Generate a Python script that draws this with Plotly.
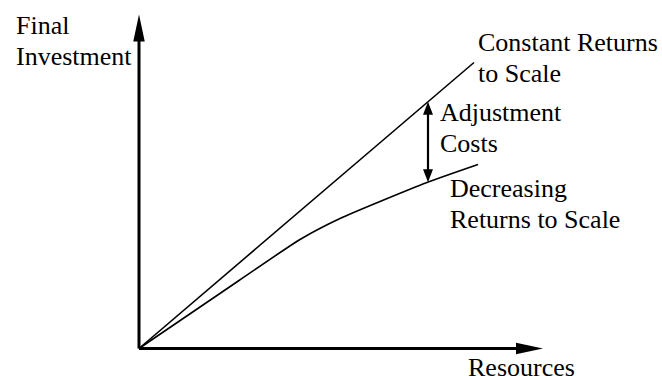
import numpy as np
import plotly.graph_objects as go

# ---- data (arbitrary units) ----
resources_crs = [0.0, 8.375]
investment_crs = [0.0, 7.15]

resources_drs = [0.0, 2.5, 4.025, 5.025, 7.2, 8.475]
investment_drs = [0.0, 1.7, 2.725, 3.25, 4.15, 4.6]

axis_x_end = 10.1      # tip of horizontal axis arrow
axis_y_end = 8.35      # tip of vertical axis arrow
adjust_x = 7.225       # position of the adjustment-cost arrow

# label lines: (text, left edge px, baseline px)
label_lines = [
    ("Final", 15, 33),
    ("Investment", 15, 64.5),
    ("Constant Returns", 477.2, 50),
    ("to Scale", 477.2, 81.5),
    ("Adjustment", 439, 120.5),
    ("Costs", 439, 151.5),
    ("Decreasing", 449, 196),
    ("Returns to Scale", 449, 227.5),
    ("Resources", 466.5, 375.3),
]

FONT_SIZE = 26
FONT = dict(family="Liberation Serif", size=FONT_SIZE, color="black")
ASCENT = 0.891  # Liberation Serif ascent (em)
UNIT = 40.0  # px per data unit
OX, OY = 139.0, 348.5  # pixel position of the origin

fig = go.Figure()
fig.add_trace(go.Scatter(x=resources_crs, y=investment_crs, mode="lines",
                         line=dict(color="black", width=1.6), hoverinfo="skip"))
fig.add_trace(go.Scatter(x=resources_drs, y=investment_drs, mode="lines",
                         line=dict(color="black", width=1.6, shape="spline", smoothing=0.6),
                         hoverinfo="skip"))

shapes = []
# axes lines
head_len_ax, head_w_ax = 27, 11.5
shapes.append(dict(type="line", x0=0, y0=0, x1=0, y1=axis_y_end - head_len_ax / UNIT + 0.05,
                   line=dict(color="black", width=3)))
shapes.append(dict(type="line", x0=0, y0=0, x1=axis_x_end - head_len_ax / UNIT + 0.05, y1=0,
                   line=dict(color="black", width=3)))
# axis arrowheads (pixel-sized, anchored at the axis tips)
shapes.append(dict(type="path", xref="x", yref="y", xsizemode="pixel", ysizemode="pixel",
                   xanchor=0, yanchor=axis_y_end,
                   path=f"M0,0 L{-head_w_ax/2},{-head_len_ax} L{head_w_ax/2},{-head_len_ax} Z",
                   fillcolor="black", line=dict(width=0)))
shapes.append(dict(type="path", xref="x", yref="y", xsizemode="pixel", ysizemode="pixel",
                   xanchor=axis_x_end, yanchor=0,
                   path=f"M0,0 L{-head_len_ax},{head_w_ax/2} L{-head_len_ax},{-head_w_ax/2} Z",
                   fillcolor="black", line=dict(width=0)))

# adjustment-cost double arrow between the two curves
top = float(np.interp(adjust_x, resources_crs, investment_crs))
bot = float(np.interp(adjust_x, resources_drs, investment_drs))
hl, hw = 13, 10
shapes.append(dict(type="line", x0=adjust_x, x1=adjust_x,
                   y0=bot + (hl - 2) / UNIT, y1=top - (hl - 2) / UNIT,
                   line=dict(color="black", width=2.2)))
shapes.append(dict(type="path", xref="x", yref="y", xsizemode="pixel", ysizemode="pixel",
                   xanchor=adjust_x, yanchor=top,
                   path=f"M0,0 L{-hw/2},{-hl} L{hw/2},{-hl} Z",
                   fillcolor="black", line=dict(width=0)))
shapes.append(dict(type="path", xref="x", yref="y", xsizemode="pixel", ysizemode="pixel",
                   xanchor=adjust_x, yanchor=bot,
                   path=f"M0,0 L{-hw/2},{hl} L{hw/2},{hl} Z",
                   fillcolor="black", line=dict(width=0)))


def px_to_x(px):
    return (px - OX) / UNIT


def px_to_y(py):
    return (OY - py) / UNIT


annotations = []
for text, left, baseline in label_lines:
    annotations.append(dict(
        text=text, x=px_to_x(left), y=px_to_y(baseline - ASCENT * FONT_SIZE),
        xref="x", yref="y", xanchor="left", yanchor="top", align="left",
        showarrow=False, font=FONT, borderpad=0,
    ))

fig.update_layout(
    width=662, height=376,
    margin=dict(l=0, r=0, t=0, b=0),
    paper_bgcolor="white", plot_bgcolor="white",
    showlegend=False,
    xaxis=dict(range=[-OX / UNIT, (662 - OX) / UNIT], visible=False, fixedrange=True),
    yaxis=dict(range=[-(376 - OY) / UNIT, OY / UNIT], visible=False, fixedrange=True),
    shapes=shapes,
    annotations=annotations,
)

fig.write_html(
    "out.html",
    config={"displayModeBar": False, "staticPlot": True},
    post_script="document.body.style.margin='0';document.body.style.overflow='hidden';",
)
